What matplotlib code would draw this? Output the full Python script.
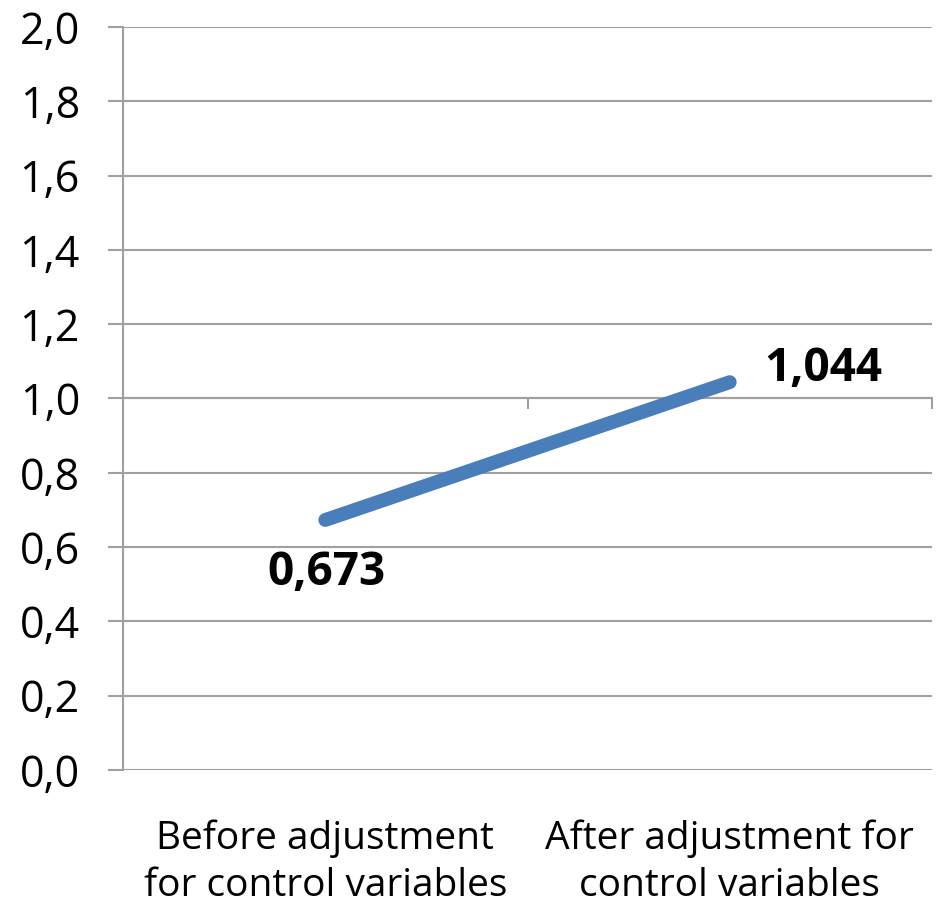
import matplotlib.pyplot as plt
import matplotlib.transforms as mtransforms
import numpy as np

categories = ['Before adjustment\nfor control variables', 'After adjustment for\ncontrol variables']
values = [0.673, 1.044]
value_labels = ['0,673', '1,044']
yticks = [0.0, 0.2, 0.4, 0.6, 0.8, 1.0, 1.2, 1.4, 1.6, 1.8, 2.0]

plt.rcParams['font.family'] = ['Open Sans', 'DejaVu Sans']
grid_col = '#a0a0a0'

fig = plt.figure(figsize=(9.39, 9.09), dpi=100)
ax = fig.add_axes([123 / 939, (909 - 770) / 909, (932 - 123) / 939, (770 - 27) / 909])

x = np.arange(len(categories))
ax.plot(x, values, color='#4a7ebb', lw=10, solid_capstyle='round', zorder=3)

# etiquetas de valores
ax.annotate(value_labels[0], (x[0], values[0]), xytext=(1, -38), textcoords='offset points',
            ha='center', va='center', fontsize=33, fontweight='bold')
ax.annotate(value_labels[1], (x[1], values[1]), xytext=(67, 10), textcoords='offset points',
            ha='center', va='center', fontsize=33, fontweight='bold')

ax.set_xlim(-0.5, 1.5)
ax.set_ylim(0, 2.0)
ax.set_yticks(yticks)
ax.set_yticklabels([f'{v:.1f}'.replace('.', ',') for v in yticks], fontsize=31)
ax.tick_params(axis='y', length=11, width=1.5, color=grid_col, pad=20)
ax.yaxis.grid(True, color=grid_col, lw=1.5)
ax.set_axisbelow(True)

for s in ['top', 'right']:
    ax.spines[s].set_visible(False)
ax.spines['left'].set_color(grid_col)
ax.spines['left'].set_linewidth(1.5)

# eje horizontal cruza en 1,0
ax.spines['bottom'].set_position(('data', 1.0))
ax.spines['bottom'].set_color(grid_col)
ax.spines['bottom'].set_linewidth(1.5)
ax.set_xticks([0.5, 1.5])
ax.set_xticklabels(['', ''])
ax.tick_params(axis='x', length=8, width=1.5, color=grid_col)

trans = mtransforms.blended_transform_factory(ax.transData, ax.transAxes)
for xi, lab in zip(x, categories):
    ax.text(xi, -0.124, lab, transform=trans, ha='center', va='center',
            fontsize=28, linespacing=1.3)

fig.savefig('out.png', dpi=100)
